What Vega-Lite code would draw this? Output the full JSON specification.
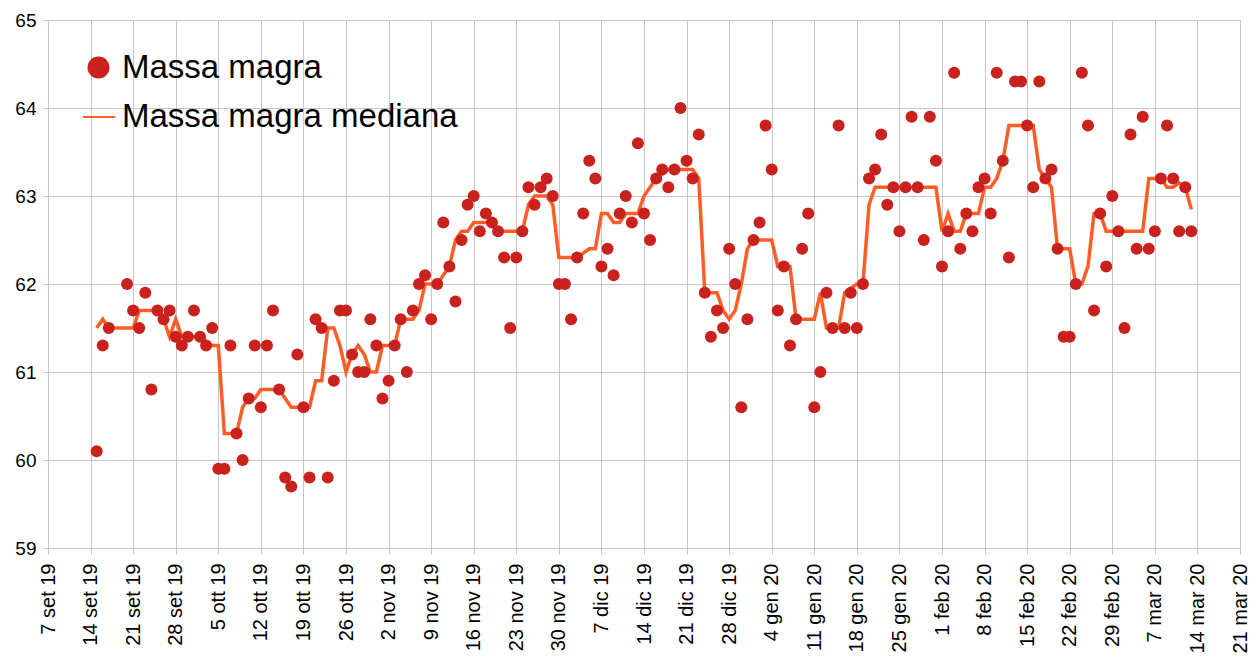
{
  "$schema": "https://vega.github.io/schema/vega-lite/v6.json",
  "width": 1192,
  "height": 528,
  "autosize": "none",
  "padding": {"left": 48, "top": 20, "right": 17, "bottom": 114},
  "background": "white",
  "config": {
    "font": "Liberation Sans",
    "view": {"stroke": "#c8c8c8"},
    "axis": {
      "grid": true,
      "gridColor": "#c8c8c8",
      "gridWidth": 1,
      "domain": false,
      "ticks": true,
      "tickColor": "#c8c8c8",
      "tickSize": 6,
      "labelColor": "#000000",
      "title": null
    },
    "legend": {
      "orient": "none",
      "title": null,
      "padding": 0,
      "labelColor": "#000000",
      "labelFontSize": 33,
      "labelLimit": 600,
      "labelFont": "Liberation Sans"
    }
  },
  "data": {
    "values": [
      {"date": "2019-09-15", "massa": 60.1, "mediana": 61.5},
      {"date": "2019-09-16", "massa": 61.3, "mediana": 61.6},
      {"date": "2019-09-17", "massa": 61.5, "mediana": 61.5},
      {"date": "2019-09-18", "massa": null, "mediana": 61.5},
      {"date": "2019-09-19", "massa": null, "mediana": 61.5},
      {"date": "2019-09-20", "massa": 62.0, "mediana": 61.5},
      {"date": "2019-09-21", "massa": 61.7, "mediana": 61.5},
      {"date": "2019-09-22", "massa": 61.5, "mediana": 61.7},
      {"date": "2019-09-23", "massa": 61.9, "mediana": 61.7},
      {"date": "2019-09-24", "massa": 60.8, "mediana": 61.7},
      {"date": "2019-09-25", "massa": 61.7, "mediana": 61.7},
      {"date": "2019-09-26", "massa": 61.6, "mediana": 61.6},
      {"date": "2019-09-27", "massa": 61.7, "mediana": 61.4},
      {"date": "2019-09-28", "massa": 61.4, "mediana": 61.6},
      {"date": "2019-09-29", "massa": 61.3, "mediana": 61.4},
      {"date": "2019-09-30", "massa": 61.4, "mediana": 61.4},
      {"date": "2019-10-01", "massa": 61.7, "mediana": 61.4},
      {"date": "2019-10-02", "massa": 61.4, "mediana": 61.4},
      {"date": "2019-10-03", "massa": 61.3, "mediana": 61.35},
      {"date": "2019-10-04", "massa": 61.5, "mediana": 61.3},
      {"date": "2019-10-05", "massa": 59.9, "mediana": 61.3},
      {"date": "2019-10-06", "massa": 59.9, "mediana": 60.3},
      {"date": "2019-10-07", "massa": 61.3, "mediana": 60.3},
      {"date": "2019-10-08", "massa": 60.3, "mediana": 60.3},
      {"date": "2019-10-09", "massa": 60.0, "mediana": 60.6},
      {"date": "2019-10-10", "massa": 60.7, "mediana": 60.7},
      {"date": "2019-10-11", "massa": 61.3, "mediana": 60.7},
      {"date": "2019-10-12", "massa": 60.6, "mediana": 60.8},
      {"date": "2019-10-13", "massa": 61.3, "mediana": 60.8},
      {"date": "2019-10-14", "massa": 61.7, "mediana": 60.8},
      {"date": "2019-10-15", "massa": 60.8, "mediana": 60.8},
      {"date": "2019-10-16", "massa": 59.8, "mediana": 60.7},
      {"date": "2019-10-17", "massa": 59.7, "mediana": 60.6},
      {"date": "2019-10-18", "massa": 61.2, "mediana": 60.6},
      {"date": "2019-10-19", "massa": 60.6, "mediana": 60.6},
      {"date": "2019-10-20", "massa": 59.8, "mediana": 60.6},
      {"date": "2019-10-21", "massa": 61.6, "mediana": 60.9},
      {"date": "2019-10-22", "massa": 61.5, "mediana": 60.9},
      {"date": "2019-10-23", "massa": 59.8, "mediana": 61.5},
      {"date": "2019-10-24", "massa": 60.9, "mediana": 61.5},
      {"date": "2019-10-25", "massa": 61.7, "mediana": 61.3},
      {"date": "2019-10-26", "massa": 61.7, "mediana": 61.0},
      {"date": "2019-10-27", "massa": 61.2, "mediana": 61.2},
      {"date": "2019-10-28", "massa": 61.0, "mediana": 61.3},
      {"date": "2019-10-29", "massa": 61.0, "mediana": 61.2},
      {"date": "2019-10-30", "massa": 61.6, "mediana": 61.0},
      {"date": "2019-10-31", "massa": 61.3, "mediana": 61.0},
      {"date": "2019-11-01", "massa": 60.7, "mediana": 61.3},
      {"date": "2019-11-02", "massa": 60.9, "mediana": 61.3},
      {"date": "2019-11-03", "massa": 61.3, "mediana": 61.3},
      {"date": "2019-11-04", "massa": 61.6, "mediana": 61.6},
      {"date": "2019-11-05", "massa": 61.0, "mediana": 61.6},
      {"date": "2019-11-06", "massa": 61.7, "mediana": 61.6},
      {"date": "2019-11-07", "massa": 62.0, "mediana": 61.7},
      {"date": "2019-11-08", "massa": 62.1, "mediana": 62.0},
      {"date": "2019-11-09", "massa": 61.6, "mediana": 62.0},
      {"date": "2019-11-10", "massa": 62.0, "mediana": 62.0},
      {"date": "2019-11-11", "massa": 62.7, "mediana": 62.1},
      {"date": "2019-11-12", "massa": 62.2, "mediana": 62.2},
      {"date": "2019-11-13", "massa": 61.8, "mediana": 62.5},
      {"date": "2019-11-14", "massa": 62.5, "mediana": 62.6},
      {"date": "2019-11-15", "massa": 62.9, "mediana": 62.6},
      {"date": "2019-11-16", "massa": 63.0, "mediana": 62.7},
      {"date": "2019-11-17", "massa": 62.6, "mediana": 62.7},
      {"date": "2019-11-18", "massa": 62.8, "mediana": 62.7},
      {"date": "2019-11-19", "massa": 62.7, "mediana": 62.7},
      {"date": "2019-11-20", "massa": 62.6, "mediana": 62.6},
      {"date": "2019-11-21", "massa": 62.3, "mediana": 62.6},
      {"date": "2019-11-22", "massa": 61.5, "mediana": 62.6},
      {"date": "2019-11-23", "massa": 62.3, "mediana": 62.6},
      {"date": "2019-11-24", "massa": 62.6, "mediana": 62.6},
      {"date": "2019-11-25", "massa": 63.1, "mediana": 62.9},
      {"date": "2019-11-26", "massa": 62.9, "mediana": 63.0},
      {"date": "2019-11-27", "massa": 63.1, "mediana": 63.0},
      {"date": "2019-11-28", "massa": 63.2, "mediana": 63.0},
      {"date": "2019-11-29", "massa": 63.0, "mediana": 62.9},
      {"date": "2019-11-30", "massa": 62.0, "mediana": 62.3},
      {"date": "2019-12-01", "massa": 62.0, "mediana": 62.3},
      {"date": "2019-12-02", "massa": 61.6, "mediana": 62.3},
      {"date": "2019-12-03", "massa": 62.3, "mediana": 62.3},
      {"date": "2019-12-04", "massa": 62.8, "mediana": 62.35},
      {"date": "2019-12-05", "massa": 63.4, "mediana": 62.4},
      {"date": "2019-12-06", "massa": 63.2, "mediana": 62.4},
      {"date": "2019-12-07", "massa": 62.2, "mediana": 62.8},
      {"date": "2019-12-08", "massa": 62.4, "mediana": 62.8},
      {"date": "2019-12-09", "massa": 62.1, "mediana": 62.7},
      {"date": "2019-12-10", "massa": 62.8, "mediana": 62.7},
      {"date": "2019-12-11", "massa": 63.0, "mediana": 62.8},
      {"date": "2019-12-12", "massa": 62.7, "mediana": 62.8},
      {"date": "2019-12-13", "massa": 63.6, "mediana": 62.8},
      {"date": "2019-12-14", "massa": 62.8, "mediana": 63.0},
      {"date": "2019-12-15", "massa": 62.5, "mediana": 63.1},
      {"date": "2019-12-16", "massa": 63.2, "mediana": 63.2},
      {"date": "2019-12-17", "massa": 63.3, "mediana": 63.25},
      {"date": "2019-12-18", "massa": 63.1, "mediana": 63.3},
      {"date": "2019-12-19", "massa": 63.3, "mediana": 63.3},
      {"date": "2019-12-20", "massa": 64.0, "mediana": 63.3},
      {"date": "2019-12-21", "massa": 63.4, "mediana": 63.3},
      {"date": "2019-12-22", "massa": 63.2, "mediana": 63.3},
      {"date": "2019-12-23", "massa": 63.7, "mediana": 63.2},
      {"date": "2019-12-24", "massa": 61.9, "mediana": 61.9},
      {"date": "2019-12-25", "massa": 61.4, "mediana": 61.9},
      {"date": "2019-12-26", "massa": 61.7, "mediana": 61.9},
      {"date": "2019-12-27", "massa": 61.5, "mediana": 61.7},
      {"date": "2019-12-28", "massa": 62.4, "mediana": 61.6},
      {"date": "2019-12-29", "massa": 62.0, "mediana": 61.7},
      {"date": "2019-12-30", "massa": 60.6, "mediana": 62.0},
      {"date": "2019-12-31", "massa": 61.6, "mediana": 62.4},
      {"date": "2020-01-01", "massa": 62.5, "mediana": 62.5},
      {"date": "2020-01-02", "massa": 62.7, "mediana": 62.5},
      {"date": "2020-01-03", "massa": 63.8, "mediana": 62.5},
      {"date": "2020-01-04", "massa": 63.3, "mediana": 62.5},
      {"date": "2020-01-05", "massa": 61.7, "mediana": 62.2},
      {"date": "2020-01-06", "massa": 62.2, "mediana": 62.2},
      {"date": "2020-01-07", "massa": 61.3, "mediana": 62.2},
      {"date": "2020-01-08", "massa": 61.6, "mediana": 61.6},
      {"date": "2020-01-09", "massa": 62.4, "mediana": 61.6},
      {"date": "2020-01-10", "massa": 62.8, "mediana": 61.6},
      {"date": "2020-01-11", "massa": 60.6, "mediana": 61.6},
      {"date": "2020-01-12", "massa": 61.0, "mediana": 61.9},
      {"date": "2020-01-13", "massa": 61.9, "mediana": 61.5},
      {"date": "2020-01-14", "massa": 61.5, "mediana": 61.5},
      {"date": "2020-01-15", "massa": 63.8, "mediana": 61.5},
      {"date": "2020-01-16", "massa": 61.5, "mediana": 61.9},
      {"date": "2020-01-17", "massa": 61.9, "mediana": 61.95},
      {"date": "2020-01-18", "massa": 61.5, "mediana": 62.0},
      {"date": "2020-01-19", "massa": 62.0, "mediana": 62.0},
      {"date": "2020-01-20", "massa": 63.2, "mediana": 62.9},
      {"date": "2020-01-21", "massa": 63.3, "mediana": 63.1},
      {"date": "2020-01-22", "massa": 63.7, "mediana": 63.1},
      {"date": "2020-01-23", "massa": 62.9, "mediana": 63.1},
      {"date": "2020-01-24", "massa": 63.1, "mediana": 63.1},
      {"date": "2020-01-25", "massa": 62.6, "mediana": 63.1},
      {"date": "2020-01-26", "massa": 63.1, "mediana": 63.1},
      {"date": "2020-01-27", "massa": 63.9, "mediana": 63.1},
      {"date": "2020-01-28", "massa": 63.1, "mediana": 63.1},
      {"date": "2020-01-29", "massa": 62.5, "mediana": 63.1},
      {"date": "2020-01-30", "massa": 63.9, "mediana": 63.1},
      {"date": "2020-01-31", "massa": 63.4, "mediana": 63.1},
      {"date": "2020-02-01", "massa": 62.2, "mediana": 62.6},
      {"date": "2020-02-02", "massa": 62.6, "mediana": 62.8},
      {"date": "2020-02-03", "massa": 64.4, "mediana": 62.6},
      {"date": "2020-02-04", "massa": 62.4, "mediana": 62.6},
      {"date": "2020-02-05", "massa": 62.8, "mediana": 62.8},
      {"date": "2020-02-06", "massa": 62.6, "mediana": 62.8},
      {"date": "2020-02-07", "massa": 63.1, "mediana": 62.8},
      {"date": "2020-02-08", "massa": 63.2, "mediana": 63.1},
      {"date": "2020-02-09", "massa": 62.8, "mediana": 63.1},
      {"date": "2020-02-10", "massa": 64.4, "mediana": 63.2},
      {"date": "2020-02-11", "massa": 63.4, "mediana": 63.4},
      {"date": "2020-02-12", "massa": 62.3, "mediana": 63.8},
      {"date": "2020-02-13", "massa": 64.3, "mediana": 63.8},
      {"date": "2020-02-14", "massa": 64.3, "mediana": 63.8},
      {"date": "2020-02-15", "massa": 63.8, "mediana": 63.8},
      {"date": "2020-02-16", "massa": 63.1, "mediana": 63.8},
      {"date": "2020-02-17", "massa": 64.3, "mediana": 63.3},
      {"date": "2020-02-18", "massa": 63.2, "mediana": 63.2},
      {"date": "2020-02-19", "massa": 63.3, "mediana": 63.1},
      {"date": "2020-02-20", "massa": 62.4, "mediana": 62.4},
      {"date": "2020-02-21", "massa": 61.4, "mediana": 62.4},
      {"date": "2020-02-22", "massa": 61.4, "mediana": 62.4},
      {"date": "2020-02-23", "massa": 62.0, "mediana": 62.0},
      {"date": "2020-02-24", "massa": 64.4, "mediana": 62.0},
      {"date": "2020-02-25", "massa": 63.8, "mediana": 62.2},
      {"date": "2020-02-26", "massa": 61.7, "mediana": 62.8},
      {"date": "2020-02-27", "massa": 62.8, "mediana": 62.8},
      {"date": "2020-02-28", "massa": 62.2, "mediana": 62.6},
      {"date": "2020-02-29", "massa": 63.0, "mediana": 62.6},
      {"date": "2020-03-01", "massa": 62.6, "mediana": 62.6},
      {"date": "2020-03-02", "massa": 61.5, "mediana": 62.6},
      {"date": "2020-03-03", "massa": 63.7, "mediana": 62.6},
      {"date": "2020-03-04", "massa": 62.4, "mediana": 62.6},
      {"date": "2020-03-05", "massa": 63.9, "mediana": 62.6},
      {"date": "2020-03-06", "massa": 62.4, "mediana": 63.2},
      {"date": "2020-03-07", "massa": 62.6, "mediana": 63.2},
      {"date": "2020-03-08", "massa": 63.2, "mediana": 63.2},
      {"date": "2020-03-09", "massa": 63.8, "mediana": 63.1},
      {"date": "2020-03-10", "massa": 63.2, "mediana": 63.1},
      {"date": "2020-03-11", "massa": 62.6, "mediana": 63.15},
      {"date": "2020-03-12", "massa": 63.1, "mediana": 63.1},
      {"date": "2020-03-13", "massa": 62.6, "mediana": 62.85}
    ]
  },
  "encoding": {
    "x": {
      "field": "date",
      "type": "temporal",
      "scale": {
        "type": "utc",
        "domain": [
          {"year": 2019, "month": 9, "date": 7, "utc": true},
          {"year": 2020, "month": 3, "date": 21, "utc": true}
        ]
      },
      "axis": {
        "values": [
          {"year": 2019, "month": 9, "date": 7, "utc": true},
          {"year": 2019, "month": 9, "date": 14, "utc": true},
          {"year": 2019, "month": 9, "date": 21, "utc": true},
          {"year": 2019, "month": 9, "date": 28, "utc": true},
          {"year": 2019, "month": 10, "date": 5, "utc": true},
          {"year": 2019, "month": 10, "date": 12, "utc": true},
          {"year": 2019, "month": 10, "date": 19, "utc": true},
          {"year": 2019, "month": 10, "date": 26, "utc": true},
          {"year": 2019, "month": 11, "date": 2, "utc": true},
          {"year": 2019, "month": 11, "date": 9, "utc": true},
          {"year": 2019, "month": 11, "date": 16, "utc": true},
          {"year": 2019, "month": 11, "date": 23, "utc": true},
          {"year": 2019, "month": 11, "date": 30, "utc": true},
          {"year": 2019, "month": 12, "date": 7, "utc": true},
          {"year": 2019, "month": 12, "date": 14, "utc": true},
          {"year": 2019, "month": 12, "date": 21, "utc": true},
          {"year": 2019, "month": 12, "date": 28, "utc": true},
          {"year": 2020, "month": 1, "date": 4, "utc": true},
          {"year": 2020, "month": 1, "date": 11, "utc": true},
          {"year": 2020, "month": 1, "date": 18, "utc": true},
          {"year": 2020, "month": 1, "date": 25, "utc": true},
          {"year": 2020, "month": 2, "date": 1, "utc": true},
          {"year": 2020, "month": 2, "date": 8, "utc": true},
          {"year": 2020, "month": 2, "date": 15, "utc": true},
          {"year": 2020, "month": 2, "date": 22, "utc": true},
          {"year": 2020, "month": 2, "date": 29, "utc": true},
          {"year": 2020, "month": 3, "date": 7, "utc": true},
          {"year": 2020, "month": 3, "date": 14, "utc": true},
          {"year": 2020, "month": 3, "date": 21, "utc": true}
        ],
        "labelExpr": "utcdate(datum.value) + ' ' + ['gen','feb','mar','apr','mag','giu','lug','ago','set','ott','nov','dic'][utcmonth(datum.value)] + ' ' + utcFormat(datum.value, '%y')",
        "labelAngle": 270,
        "labelFontSize": 20,
        "labelPadding": 9,
        "labelOverlap": false,
        "labelBound": false,
        "labelFlush": false
      }
    }
  },
  "layer": [
    {
      "mark": {"type": "line", "strokeWidth": 3.5, "interpolate": "linear"},
      "encoding": {
        "y": {
          "field": "mediana",
          "type": "quantitative",
          "scale": {"domain": [59, 65], "nice": false, "zero": false},
          "axis": {"values": [59, 60, 61, 62, 63, 64, 65], "format": "d", "labelFontSize": 19, "labelPadding": 6}
        },
        "stroke": {
          "datum": "Massa magra mediana",
          "scale": {"range": ["#ff5c26"]},
          "legend": {
            "symbolType": "stroke",
            "symbolSize": 1024,
            "symbolStrokeWidth": 2,
            "labelOffset": 6,
            "legendX": 34,
            "legendY": 80
          }
        }
      }
    },
    {
      "mark": {"type": "circle", "size": 144, "opacity": 1},
      "encoding": {
        "y": {"field": "massa", "type": "quantitative"},
        "fill": {
          "datum": "Massa magra",
          "scale": {"range": ["#c9211e"]},
          "legend": {
            "symbolType": "circle",
            "symbolSize": 484,
            "symbolOpacity": 1,
            "symbolStrokeWidth": 0,
            "labelOffset": 7,
            "legendX": 34,
            "legendY": 31
          }
        }
      }
    }
  ]
}
